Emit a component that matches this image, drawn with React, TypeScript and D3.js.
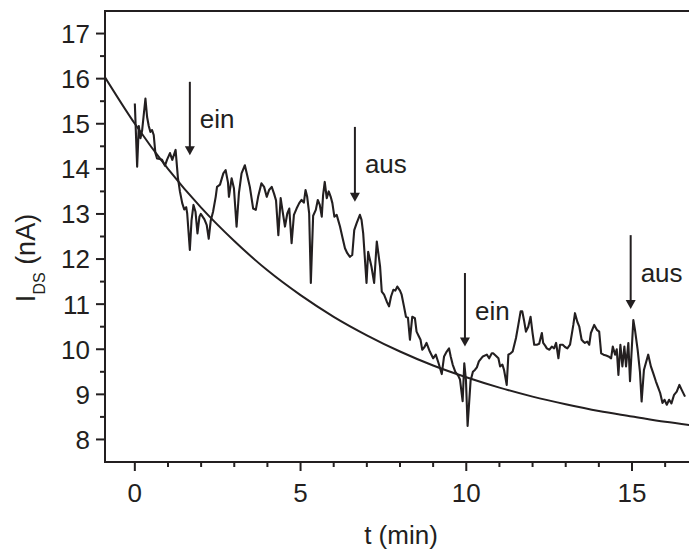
import React from "react";
import * as d3 from "d3";

// measured trace: [t (min), I_DS (nA)]
const trace: [number, number][] = [
  [0.0, 15.45], [0.07, 14.05], [0.12, 14.95], [0.17, 14.68], [0.22, 14.85], [0.32, 15.56], [0.37, 15.15], [0.42, 14.95],
  [0.47, 14.82], [0.52, 14.86], [0.57, 14.75], [0.62, 14.35], [0.67, 14.23], [0.75, 14.22], [0.82, 14.2], [0.91, 14.07],
  [0.97, 14.2], [1.06, 14.35], [1.13, 14.2], [1.23, 14.42], [1.3, 13.8], [1.36, 13.5], [1.43, 13.24], [1.49, 13.1],
  [1.55, 13.15], [1.58, 13.01], [1.66, 12.2], [1.71, 12.85], [1.77, 13.2], [1.83, 13.05], [1.89, 12.57], [1.95, 12.94],
  [1.99, 13.0], [2.1, 12.88], [2.17, 12.75], [2.23, 12.45], [2.29, 12.85], [2.36, 13.05], [2.44, 13.38], [2.48, 13.6],
  [2.57, 13.65], [2.67, 13.9], [2.74, 13.97], [2.81, 13.7], [2.84, 13.38], [2.92, 13.79], [2.99, 13.57], [3.07, 12.72],
  [3.14, 13.46], [3.22, 13.9], [3.32, 14.08], [3.39, 13.86], [3.47, 13.6], [3.57, 13.12], [3.65, 13.09], [3.72, 13.38],
  [3.82, 13.68], [3.9, 13.6], [3.98, 13.38], [4.05, 13.53], [4.13, 13.6], [4.2, 13.45], [4.26, 13.3], [4.33, 12.53],
  [4.4, 13.35], [4.46, 13.05], [4.53, 12.72], [4.6, 13.01], [4.66, 13.12], [4.73, 12.35], [4.8, 12.98], [4.88, 13.12],
  [4.96, 13.24], [5.03, 13.31], [5.1, 13.25], [5.15, 13.53], [5.2, 13.38], [5.26, 13.01], [5.31, 11.47], [5.38, 12.96],
  [5.46, 13.09], [5.52, 13.31], [5.58, 13.2], [5.64, 12.94], [5.68, 13.42], [5.73, 13.71], [5.79, 13.35], [5.85, 13.5],
  [5.91, 13.38], [5.96, 13.24], [6.02, 12.94], [6.09, 12.98], [6.19, 12.72], [6.27, 12.46], [6.34, 12.24], [6.41, 12.13],
  [6.49, 12.05], [6.56, 12.09], [6.62, 12.64], [6.69, 12.79], [6.79, 12.98], [6.84, 12.87], [6.89, 12.57], [6.99, 11.47],
  [7.04, 12.16], [7.14, 11.83], [7.22, 11.47], [7.3, 12.39], [7.4, 11.83], [7.45, 11.28], [7.52, 11.21], [7.6, 11.06],
  [7.67, 10.95], [7.73, 11.17], [7.8, 11.32], [7.86, 11.3], [7.92, 11.39], [8.0, 11.3], [8.05, 11.21], [8.12, 10.95],
  [8.18, 10.72], [8.24, 10.7], [8.3, 10.21], [8.37, 10.72], [8.45, 10.69], [8.5, 10.39], [8.56, 10.3], [8.62, 10.21],
  [8.67, 9.99], [8.74, 10.05], [8.8, 10.14], [8.9, 9.95], [9.0, 9.8], [9.08, 9.88], [9.16, 9.7], [9.26, 9.45],
  [9.33, 9.84], [9.41, 9.95], [9.48, 10.02], [9.53, 9.84], [9.59, 9.66], [9.67, 9.5], [9.76, 9.41], [9.81, 9.33],
  [9.89, 8.85], [9.94, 9.69], [9.99, 9.32], [10.04, 8.3], [10.13, 9.3], [10.2, 9.5], [10.26, 9.54], [10.32, 9.6],
  [10.38, 9.73], [10.5, 9.84], [10.62, 9.88], [10.69, 9.8], [10.77, 9.91], [10.81, 9.91], [10.9, 9.85], [10.97, 9.8],
  [11.02, 9.62], [11.09, 9.66], [11.14, 9.54], [11.22, 9.21], [11.27, 9.88], [11.34, 9.91], [11.4, 9.95], [11.5, 10.25],
  [11.57, 10.54], [11.64, 10.84], [11.69, 10.84], [11.74, 10.65], [11.8, 10.39], [11.87, 10.5], [11.94, 10.72], [12.0, 10.36],
  [12.05, 10.1], [12.13, 10.1], [12.2, 10.12], [12.28, 10.36], [12.32, 10.14], [12.38, 10.08], [12.43, 10.02], [12.51, 9.99],
  [12.58, 10.06], [12.65, 10.02], [12.71, 10.14], [12.78, 9.8], [12.83, 10.1], [12.91, 10.1], [12.98, 10.05], [13.05, 10.02],
  [13.13, 10.1], [13.18, 10.32], [13.23, 10.54], [13.28, 10.8], [13.35, 10.61], [13.41, 10.5], [13.48, 10.21], [13.53, 10.17],
  [13.58, 10.14], [13.65, 10.17], [13.71, 10.1], [13.76, 10.36], [13.86, 10.54], [13.94, 10.43], [14.01, 10.39], [14.07, 9.91],
  [14.14, 9.88], [14.22, 9.86], [14.29, 9.84], [14.37, 9.8], [14.42, 10.06], [14.49, 9.88], [14.54, 10.0], [14.59, 9.43],
  [14.65, 10.1], [14.71, 9.62], [14.77, 10.06], [14.82, 9.62], [14.89, 10.14], [14.94, 9.29], [15.04, 10.65], [15.09, 10.43],
  [15.17, 9.99], [15.24, 9.5], [15.29, 8.84], [15.36, 9.54], [15.42, 9.7], [15.49, 9.88], [15.57, 9.62], [15.64, 9.47],
  [15.72, 9.29], [15.79, 9.15], [15.85, 9.03], [15.92, 8.81], [15.98, 8.88], [16.05, 8.77], [16.12, 8.88], [16.19, 8.8],
  [16.27, 8.99], [16.35, 9.06], [16.43, 9.21], [16.5, 9.1], [16.6, 8.95],
];

// fitted decay curve
const fitTime = [-0.9, 0, 1, 2, 3, 4, 5, 6, 7, 8, 9, 10, 11, 12, 13, 14, 15, 16, 16.75];
const fitCurrent = [16.03, 15.0, 14.0, 13.14, 12.4, 11.75, 11.2, 10.72, 10.31, 9.95, 9.64, 9.38, 9.15, 8.95, 8.78, 8.63, 8.51, 8.39, 8.32];

const xMajorTicks = [0, 5, 10, 15];
const xMinorTicks = [1, 2, 3, 4, 6, 7, 8, 9, 11, 12, 13, 14, 16];
const yMajorTicks = [8, 9, 10, 11, 12, 13, 14, 15, 16, 17];
const yMinorTicks = [8.5, 9.5, 10.5, 11.5, 12.5, 13.5, 14.5, 15.5, 16.5];

// annotations
const arrowTimes = [1.66, 6.64, 9.96, 14.96];
const arrowTops = [15.93, 14.93, 11.69, 12.53];
const arrowTips = [14.3, 13.27, 10.06, 10.89];
const arrowLabels = ["ein", "aus", "ein", "aus"];

const INK = "#231f20";
const FONT = "'Liberation Sans', Arial, Helvetica, sans-serif";

export default function App() {
  const W = 689;
  const H = 555;
  const left = 105, right = 690, top = 11, bottom = 462;
  const x = d3.scaleLinear().domain([-0.9, 16.75]).range([left, right]);
  const y = d3.scaleLinear().domain([7.5, 17.5]).range([bottom, top]);

  const dataPath = d3
    .line<[number, number]>()
    .x((d) => x(d[0]))
    .y((d) => y(d[1]))(trace) || "";

  const fitPath = d3
    .line<number>()
    .curve(d3.curveMonotoneX)
    .x((d) => x(d))
    .y((_, i) => y(fitCurrent[i]))(fitTime) || "";

  const fs = 26;

  return (
    <svg
      width={W}
      height={H}
      viewBox={`0 0 ${W} ${H}`}
      style={{ position: "absolute", left: 0, top: 0, background: "#fff" }}
    >
      <rect x={0} y={0} width={W} height={H} fill="#fff" />
      <defs>
        <clipPath id="plotClip">
          <rect x={left} y={top} width={right - left} height={bottom - top} />
        </clipPath>
      </defs>

      <g clipPath="url(#plotClip)" fill="none" stroke={INK} strokeLinejoin="round">
        <path d={fitPath} strokeWidth={2} />
        <path d={dataPath} strokeWidth={2.1} />
      </g>

      {/* frame */}
      <g stroke={INK} strokeWidth={2} fill="none">
        <line x1={left} x2={left} y1={top - 1} y2={bottom + 1} />
        <line x1={left - 1} x2={right} y1={top} y2={top} />
        <line x1={left - 1} x2={right} y1={bottom} y2={bottom} />
        <line x1={right} x2={right} y1={top} y2={bottom} />
      </g>

      {/* ticks */}
      <g stroke={INK} strokeWidth={2}>
        {yMajorTicks.map((v) => (
          <line key={"ym" + v} x1={left - 9} x2={left} y1={y(v)} y2={y(v)} />
        ))}
        {yMinorTicks.map((v) => (
          <line key={"yn" + v} x1={left - 5} x2={left} y1={y(v)} y2={y(v)} />
        ))}
        {xMajorTicks.map((v) => (
          <line key={"xm" + v} x1={x(v)} x2={x(v)} y1={bottom} y2={bottom + 9} />
        ))}
        {xMinorTicks.map((v) => (
          <line key={"xn" + v} x1={x(v)} x2={x(v)} y1={bottom} y2={bottom + 5} />
        ))}
      </g>

      <g fill={INK} fontFamily={FONT} fontSize={fs}>
        {yMajorTicks.map((v) => (
          <text key={"yl" + v} x={left - 15} y={y(v)} dy="0.36em" textAnchor="end">
            {v}
          </text>
        ))}
        {xMajorTicks.map((v) => (
          <text key={"xl" + v} x={x(v)} y={bottom + 40} textAnchor="middle">
            {v}
          </text>
        ))}
        <text x={(left + 689) / 2 + 4} y={544} textAnchor="middle">
          t (min)
        </text>
        <text transform={`translate(35, 258) rotate(-90)`} textAnchor="middle" fontSize={27}>
          I<tspan fontSize={16} dy={10}>DS</tspan>
          <tspan dy={-10}> (nA)</tspan>
        </text>
      </g>

      {/* arrows */}
      <g fill={INK} fontFamily={FONT} fontSize={fs}>
        {arrowTimes.map((t, i) => {
          const ax = x(t);
          const y0 = y(arrowTops[i]);
          const y1 = y(arrowTips[i]);
          return (
            <g key={"ar" + i}>
              <line x1={ax} x2={ax} y1={y0} y2={y1 - 6} stroke={INK} strokeWidth={2} />
              <path d={`M${ax - 5},${y1 - 9} L${ax + 5},${y1 - 9} L${ax},${y1} Z`} fill={INK} />
              <text x={ax + 10} y={y0 + 46.5}>
                {arrowLabels[i]}
              </text>
            </g>
          );
        })}
      </g>
    </svg>
  );
}
